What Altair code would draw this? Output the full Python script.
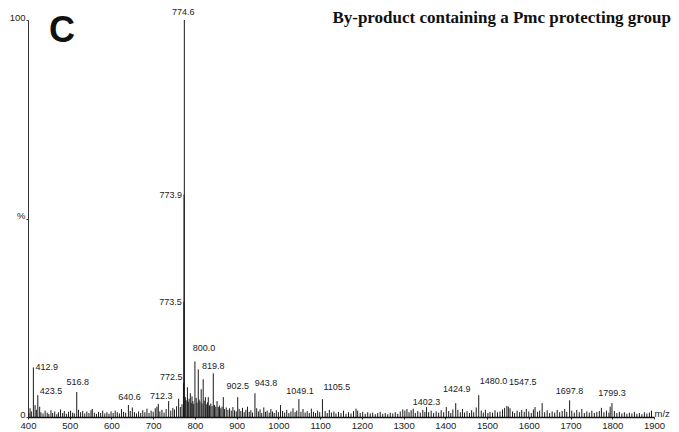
import altair as alt
import pandas as pd

# ---- labelled peaks (m/z, relative intensity %) ----
label_mz = [412.9, 423.5, 516.8, 640.6, 712.3, 772.5, 773.5, 773.9, 774.6, 800.0, 819.8,
            902.5, 943.8, 1049.1, 1105.5, 1402.3, 1424.9, 1480.0, 1547.5, 1697.8, 1799.3]
label_int = [12.5, 5.5, 6.3, 3.0, 3.3, 8.5, 29.0, 56.0, 100.0, 14.0, 9.5,
             5.0, 6.0, 4.5, 4.5, 2.5, 3.5, 5.5, 2.8, 4.2, 3.5]

# ---- other visible (unlabelled) peaks ----
other_mz = [782, 789, 808, 815, 825, 832, 844, 853, 868, 737, 761, 1632, 1005, 1355]
other_int = [7.5, 6.0, 12.0, 7.0, 5.0, 5.0, 11.0, 4.0, 5.0, 4.0, 4.6, 3.5, 3.0, 2.5]

# ---- baseline noise sticks (m/z, %) ----
noise = [
    (402, 1.0), (405, 2.2), (408, 1.4), (417, 3.0), (420, 1.8), (428, 2.6), (431, 1.2), (436, 0.9),
    (441, 1.6), (446, 1.1), (450, 0.8), (455, 1.7), (459, 1.0), (464, 1.4), (469, 0.7), (473, 1.2),
    (478, 1.9), (483, 1.0), (487, 1.5), (492, 0.8), (497, 1.3), (502, 1.6), (507, 1.1), (511, 0.9),
    (521, 1.8), (526, 1.2), (531, 1.5), (536, 0.9), (541, 1.4), (546, 1.0), (551, 1.7), (554, 2.0),
    (559, 1.1), (564, 0.8), (569, 1.3), (574, 1.0), (579, 1.6), (584, 0.9), (589, 1.2), (594, 0.8),
    (599, 1.4), (604, 1.0), (609, 1.6), (614, 1.2), (619, 0.9), (624, 2.0), (629, 1.3), (634, 1.1),
    (645, 1.5), (650, 2.4), (655, 1.2), (660, 0.9), (665, 1.4), (670, 1.0), (675, 1.7), (680, 1.2),
    (685, 2.1), (690, 1.0), (695, 1.6), (700, 1.3), (705, 2.2), (709, 2.6), (716, 1.4), (721, 1.8),
    (726, 1.1), (731, 2.0), (742, 1.6), (747, 2.3), (751, 1.9), (756, 2.7), (765, 2.5), (769, 3.2),
    (777, 5.0), (779, 4.2), (784, 3.8), (786, 4.6), (791, 3.5), (793, 5.2), (795, 4.0), (797, 3.3),
    (803, 4.8), (805, 3.6), (810, 4.4), (812, 3.9), (817, 3.4), (822, 4.1), (827, 3.2), (830, 3.7),
    (835, 2.9), (838, 3.4), (841, 2.8), (847, 3.0), (850, 2.6), (856, 2.5), (859, 2.9), (862, 2.2),
    (865, 2.6), (871, 2.0), (875, 2.4), (879, 1.8), (883, 2.2), (887, 1.6), (891, 2.5), (895, 1.7),
    (899, 1.4), (906, 2.0), (910, 1.5), (914, 2.3), (918, 1.2), (922, 1.8), (926, 2.6), (930, 1.3),
    (934, 1.7), (938, 1.1), (948, 2.2), (952, 1.4), (956, 1.9), (960, 1.0), (965, 2.4), (969, 1.3),
    (973, 1.6), (978, 1.1), (982, 2.0), (986, 1.4), (990, 1.0), (995, 1.7), (1000, 1.2), (1010, 1.5),
    (1015, 1.1), (1020, 1.8), (1025, 1.0), (1030, 1.4), (1035, 2.2), (1040, 1.2), (1044, 1.6),
    (1054, 1.3), (1059, 2.0), (1064, 1.1), (1069, 1.5), (1074, 1.0), (1079, 2.1), (1084, 1.3),
    (1089, 1.0), (1094, 1.6), (1099, 1.2), (1112, 1.5), (1117, 1.0), (1122, 1.8), (1127, 1.1),
    (1133, 1.4), (1138, 0.9), (1144, 1.3), (1150, 1.0), (1156, 1.6), (1162, 0.8), (1168, 1.2),
    (1174, 0.9), (1180, 1.5), (1186, 2.1), (1190, 1.6), (1196, 1.0), (1202, 1.3), (1208, 0.8),
    (1214, 1.2), (1220, 0.9), (1226, 1.1), (1232, 0.7), (1238, 1.0), (1244, 1.3), (1250, 0.8),
    (1256, 1.0), (1262, 0.7), (1268, 1.1), (1274, 0.9), (1280, 1.2), (1286, 0.8), (1292, 1.4),
    (1298, 1.9), (1303, 1.6), (1308, 2.0), (1313, 1.2), (1318, 1.7), (1323, 2.1), (1328, 1.0),
    (1334, 1.5), (1340, 1.1), (1346, 1.8), (1351, 1.3), (1360, 1.2), (1366, 1.6), (1372, 1.0),
    (1378, 1.4), (1384, 1.1), (1390, 1.7), (1396, 1.2), (1408, 1.5), (1413, 1.0), (1418, 1.9),
    (1430, 1.8), (1436, 1.2), (1441, 2.0), (1446, 1.1), (1452, 1.5), (1458, 1.0), (1463, 1.7),
    (1468, 1.2), (1474, 2.4), (1486, 1.6), (1491, 1.1), (1496, 1.8), (1502, 1.0), (1507, 1.3),
    (1513, 1.1), (1519, 1.7), (1525, 1.2), (1531, 1.4), (1537, 1.9), (1542, 2.3), (1551, 2.6),
    (1555, 2.2), (1561, 1.4), (1566, 1.0), (1572, 1.6), (1578, 1.2), (1583, 1.8), (1589, 1.3),
    (1594, 2.0), (1600, 1.4), (1606, 1.0), (1611, 1.9), (1615, 2.5), (1621, 1.3), (1626, 1.6),
    (1638, 1.2), (1644, 1.7), (1650, 1.0), (1656, 1.4), (1662, 1.1), (1668, 1.8), (1674, 1.2),
    (1680, 1.5), (1686, 2.0), (1691, 1.3), (1703, 1.6), (1709, 1.1), (1715, 1.8), (1721, 1.2),
    (1727, 2.0), (1733, 1.0), (1739, 1.4), (1745, 1.1), (1751, 1.6), (1757, 1.0), (1763, 1.3),
    (1769, 1.5), (1774, 2.3), (1780, 1.2), (1786, 1.6), (1792, 1.1), (1795, 2.6), (1805, 1.5),
    (1811, 1.0), (1817, 1.3), (1823, 0.9), (1829, 1.2), (1835, 0.8), (1841, 1.1), (1847, 0.9),
    (1853, 1.3), (1859, 0.8), (1865, 1.0), (1871, 0.7), (1877, 1.2), (1883, 0.9), (1889, 1.1),
    (1894, 1.6),
]

x_ticks = list(range(400, 2000, 100))
title_text = "By-product containing a Pmc protecting group"
panel_letter = "C"

# label placement style: (align, baseline, dx, dy)
label_style = {
    "412.9": ("left", "middle", 2, 0),
    "423.5": ("left", "middle", 2, -4),
    "516.8": ("center", "bottom", 1, -5),
    "640.6": ("center", "bottom", 1, -3),
    "712.3": ("center", "bottom", 3, -3),
    "772.5": ("right", "bottom", -1, -1),
    "773.5": ("right", "middle", -2, 0),
    "773.9": ("right", "middle", -2, 0),
    "774.6": ("center", "middle", -1, -8),
    "800.0": ("center", "bottom", 9, -8),
    "819.8": ("center", "bottom", 10, -8),
    "902.5": ("center", "bottom", 0, -6),
    "943.8": ("center", "bottom", 11, -5),
    "1049.1": ("center", "bottom", 1, -3),
    "1105.5": ("left", "bottom", 1, -7),
    "1402.3": ("right", "middle", -6, -5),
    "1424.9": ("center", "bottom", 1, -9),
    "1480.0": ("left", "bottom", 1, -9),
    "1547.5": ("left", "bottom", 2, -19),
    "1697.8": ("center", "bottom", 0, -4),
    "1799.3": ("center", "bottom", 0, -5),
}

sticks = pd.DataFrame({
    "mz": label_mz + other_mz + [p[0] for p in noise],
    "inten": label_int + other_int + [p[1] for p in noise],
})
labels = pd.DataFrame({"mz": label_mz, "inten": label_int,
                       "txt": [f"{m:.1f}" for m in label_mz]})

LBL_FONT = "Liberation Sans, Arial, sans-serif"

xscale = alt.Scale(domain=[400, 1900], nice=False, zero=False)
yscale = alt.Scale(domain=[0, 100], nice=False)

base = alt.Chart(sticks)

rules = base.mark_rule(color="#1a1a1a", strokeWidth=1).encode(
    x=alt.X("mz:Q", scale=xscale,
            axis=alt.Axis(values=x_ticks, format="d", grid=False, tickSize=2, labelPadding=1,
                          labelFont=LBL_FONT, labelFontSize=9.5, labelColor="#222",
                          domainColor="#111", domainWidth=1.5, tickColor="#333",
                          labelFlush=False, labelOverlap=False,
                          title="m/z", titleFont="Liberation Sans", titleFontSize=9.5,
                          titleFontWeight="normal", titleColor="#222",
                          titleX=626, titleY=-4, titleAlign="left",
                          titleBaseline="middle", titleAnchor="start")),
    y=alt.Y("inten:Q", scale=yscale,
            axis=alt.Axis(values=[0, 50, 100], grid=False, tickSize=2, labelPadding=1,
                          labelOffset=-3,
                          labelExpr="datum.value == 50 ? '%' : datum.label",
                          labelFont=LBL_FONT, labelFontSize=9.5, labelColor="#222",
                          domainColor="#333", domainWidth=1, tickColor="#333",
                          labelFlush=False, title=None)),
    y2=alt.datum(0),
)

layers = [rules]
for _, row in labels.iterrows():
    al, bl, dx, dy = label_style[row["txt"]]
    layers.append(
        alt.Chart(labels[labels["txt"] == row["txt"]]).mark_text(
            align=al, baseline=bl, dx=dx, dy=dy, font=LBL_FONT, fontSize=9, color="#222"
        ).encode(x=alt.X("mz:Q", scale=xscale), y=alt.Y("inten:Q", scale=yscale), text="txt:N")
    )

title_layer = alt.Chart(pd.DataFrame({"t": [title_text]})).mark_text(
    align="right", baseline="middle", font="Liberation Serif", fontSize=17,
    fontWeight="bold", color="#111"
).encode(x=alt.value(643), y=alt.value(-2), text="t:N")

letter_layer = alt.Chart(pd.DataFrame({"t": [panel_letter]})).mark_text(
    align="left", baseline="middle", font="Liberation Sans", fontSize=36,
    fontWeight="bold", color="#111"
).encode(x=alt.value(21), y=alt.value(11), text="t:N")

chart = alt.layer(*layers, title_layer, letter_layer).properties(
    width=626, height=397,
    padding={"left": 20, "top": 12, "right": 17, "bottom": 14},
    autosize=alt.AutoSizeParams(type="none"),
).configure_view(stroke=None)

chart.save("out.html", embed_options={"renderer": "svg", "actions": False})
